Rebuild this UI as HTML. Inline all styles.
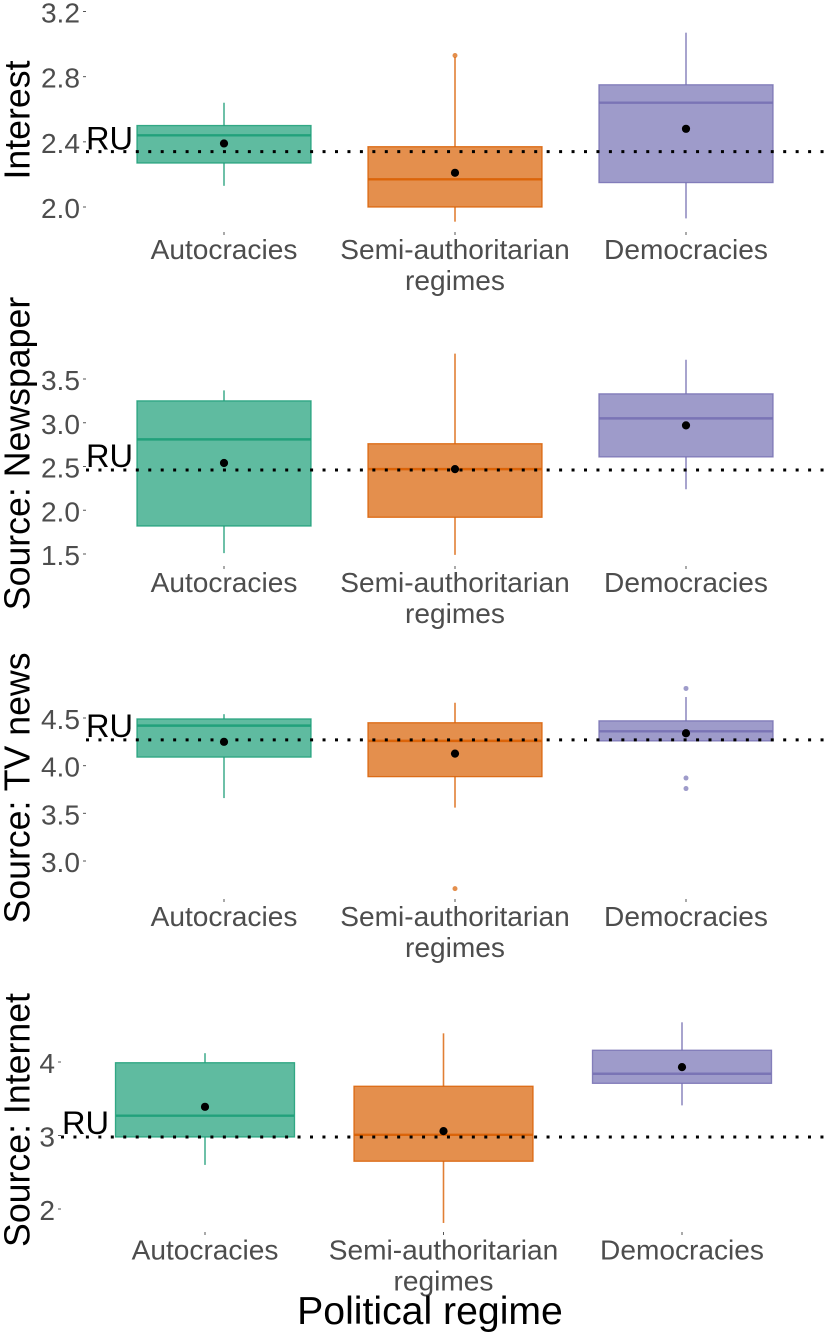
<!DOCTYPE html>
<html lang="en">
<head>
<meta charset="utf-8">
<title>Boxplots by political regime</title>
<style>
html,body{margin:0;padding:0;background:#fff;width:826px;height:1336px;overflow:hidden}
svg{display:block;font-family:"Liberation Sans",Arial,sans-serif}
</style>
</head>
<body>
<svg id="chart" xmlns="http://www.w3.org/2000/svg" width="826" height="1336" viewBox="0 0 826 1336"></svg>
<script>
const categories = ["Autocracies", "Semi-authoritarian|regimes", "Democracies"];
const colors = ["#1b9e77", "#d95f02", "#7570b3"];

const interestTicks = [2.0, 2.4, 2.8, 3.2];
const interestLower = [2.13, 1.91, 1.93];
const interestQ1 = [2.27, 2.0, 2.15];
const interestMedian = [2.44, 2.17, 2.64];
const interestQ3 = [2.5, 2.37, 2.75];
const interestUpper = [2.64, 2.92, 3.07];
const interestMean = [2.39, 2.21, 2.48];
const interestOutliers = [[], [2.93], []];
const interestRU = 2.34;

const newspaperTicks = [1.5, 2.0, 2.5, 3.0, 3.5];
const newspaperLower = [1.51, 1.49, 2.24];
const newspaperQ1 = [1.82, 1.92, 2.61];
const newspaperMedian = [2.81, 2.47, 3.05];
const newspaperQ3 = [3.25, 2.76, 3.33];
const newspaperUpper = [3.37, 3.79, 3.72];
const newspaperMean = [2.54, 2.47, 2.97];
const newspaperOutliers = [[], [], []];
const newspaperRU = 2.46;

const tvTicks = [3.0, 3.5, 4.0, 4.5];
const tvLower = [3.66, 3.56, 4.26];
const tvQ1 = [4.09, 3.885, 4.26];
const tvMedian = [4.42, 4.26, 4.36];
const tvQ3 = [4.49, 4.45, 4.47];
const tvUpper = [4.54, 4.66, 4.72];
const tvMean = [4.25, 4.126, 4.34];
const tvOutliers = [[], [2.71], [4.81, 3.87, 3.76]];
const tvRU = 4.27;

const internetTicks = [2, 3, 4];
const internetLower = [2.6, 1.81, 3.41];
const internetQ1 = [2.98, 2.65, 3.71];
const internetMedian = [3.27, 3.01, 3.84];
const internetQ3 = [3.99, 3.67, 4.16];
const internetUpper = [4.12, 4.39, 4.54];
const internetMean = [3.39, 3.06, 3.93];
const internetOutliers = [[], [], []];
const internetRU = 2.98;

const svg = document.getElementById('chart');
const NS = 'http://www.w3.org/2000/svg';

function make(tag, attrs, name, parent, text) {
  const el = document.createElementNS(NS, tag);
  for (const k in attrs) el.setAttribute(k, attrs[k]);
  
  
  if (text !== undefined) el.textContent = text;
  (parent || svg).appendChild(el);
  return el;
}

function linearScale(v0, p0, v1, p1) {
  return function (v) { return p0 + (v - v0) * (p1 - p0) / (v1 - v0); };
}

function drawPanel(p) {
  const g = make('g', {}, p.key + '-panel');
  const x = linearScale(0, p.x0, 2, p.x2);
  const y = linearScale(p.v0, p.y0, p.v1, p.y1);

  make('text', {
    transform: 'translate(29.5,' + p.titleY + ') rotate(-90)',
    'text-anchor': 'middle', 'font-size': 35.7, fill: '#000'
  }, p.key + '-y-axis-title', g, p.title);

  p.ticks.forEach(function (t) {
    const py = y(t);
    make('line', { x1: p.axisX - 3, x2: p.axisX, y1: py, y2: py, stroke: '#555', 'stroke-width': 1 }, p.key + '-y-tick', g);
    make('text', {
      x: p.axisX - 6, y: py + 11, 'text-anchor': 'end', 'font-size': 28.1, fill: '#4d4d4d'
    }, p.key + '-y-tick-label', g, p.fmt(t));
  });

  categories.forEach(function (c, i) {
    const cx = x(i);
    const col = colors[i];
    make('line', { x1: cx, x2: cx, y1: p.axisY, y2: p.axisY + 3, stroke: '#555', 'stroke-width': 1 }, p.key + '-x-tick', g);
    c.split('|').forEach(function (line, j) {
      make('text', {
        x: cx, y: p.labelY + j * 31, 'text-anchor': 'middle', 'font-size': 28.1, fill: '#4d4d4d'
      }, p.key + '-x-tick-label', g, line);
    });
    make('line', { x1: cx, x2: cx, y1: y(p.upper[i]), y2: y(p.q3[i]), stroke: col, 'stroke-width': 1.6, 'stroke-opacity': 0.8 }, p.key + '-upper-whisker', g);
    make('line', { x1: cx, x2: cx, y1: y(p.q1[i]), y2: y(p.lower[i]), stroke: col, 'stroke-width': 1.6, 'stroke-opacity': 0.8 }, p.key + '-lower-whisker', g);
    make('rect', {
      x: cx - p.half, y: y(p.q3[i]), width: p.half * 2, height: y(p.q1[i]) - y(p.q3[i]),
      fill: col, 'fill-opacity': 0.7, stroke: col, 'stroke-opacity': 0.85, 'stroke-width': 1.3
    }, p.key + '-box', g);
    make('line', { x1: cx - p.half, x2: cx + p.half, y1: y(p.median[i]), y2: y(p.median[i]), stroke: col, 'stroke-width': 2.4, 'stroke-opacity': 0.9 }, p.key + '-median', g);
    p.outliers[i].forEach(function (o) {
      make('circle', { cx: cx, cy: y(o), r: 2.5, fill: col, 'fill-opacity': 0.7 }, p.key + '-outlier', g);
    });
  });

  make('line', {
    x1: p.axisX, x2: 826, y1: y(p.ru), y2: y(p.ru),
    stroke: '#000', 'stroke-width': 3, 'stroke-dasharray': '3 9.45'
  }, p.key + '-ru-reference-line', g);

  make('text', {
    x: p.ruX, y: y(p.ru) + p.ruDy, 'text-anchor': 'end', 'font-size': 32.6, fill: '#000'
  }, p.key + '-ru-label', g, 'RU');

  categories.forEach(function (c, i) {
    make('circle', { cx: x(i), cy: y(p.mean[i]), r: 4.1, fill: '#000' }, p.key + '-mean-point', g);
  });
}

const f1 = function (t) { return t.toFixed(1); };
const f0 = function (t) { return t.toFixed(0); };

drawPanel({
  key: 'interest', title: 'Interest', titleY: 120, ticks: interestTicks, fmt: f1,
  v0: 2, y0: 207, v1: 3.2, y1: 11.5, x0: 224, x2: 686, half: 87, axisX: 86, axisY: 232, labelY: 259,
  ruX: 133, ruDy: -2,
  lower: interestLower, q1: interestQ1, median: interestMedian, q3: interestQ3, upper: interestUpper,
  mean: interestMean, outliers: interestOutliers, ru: interestRU
});
drawPanel({
  key: 'newspaper', title: 'Source: Newspaper', titleY: 453.5, ticks: newspaperTicks, fmt: f1,
  v0: 1.5, y0: 554, v1: 3.5, y1: 379, x0: 224, x2: 686, half: 87, axisX: 86, axisY: 566, labelY: 592,
  ruX: 133, ruDy: -3,
  lower: newspaperLower, q1: newspaperQ1, median: newspaperMedian, q3: newspaperQ3, upper: newspaperUpper,
  mean: newspaperMean, outliers: newspaperOutliers, ru: newspaperRU
});
drawPanel({
  key: 'tv-news', title: 'Source: TV news', titleY: 788, ticks: tvTicks, fmt: f1,
  v0: 3, y0: 861, v1: 4.5, y1: 718, x0: 224, x2: 686, half: 87, axisX: 86, axisY: 899, labelY: 926,
  ruX: 133, ruDy: -3,
  lower: tvLower, q1: tvQ1, median: tvMedian, q3: tvQ3, upper: tvUpper,
  mean: tvMean, outliers: tvOutliers, ru: tvRU
});
drawPanel({
  key: 'internet', title: 'Source: Internet', titleY: 1120, ticks: internetTicks, fmt: f0,
  v0: 2, y0: 1209, v1: 4, y1: 1062, x0: 205, x2: 682, half: 89.5, axisX: 61, axisY: 1232, labelY: 1259.5,
  ruX: 109, ruDy: -3,
  lower: internetLower, q1: internetQ1, median: internetMedian, q3: internetQ3, upper: internetUpper,
  mean: internetMean, outliers: internetOutliers, ru: internetRU
});

make('text', {
  x: 430, y: 1324, 'text-anchor': 'middle', 'font-size': 39.2, fill: '#000'
}, 'x-axis-title', svg, 'Political regime');
</script>
</body>
</html>
